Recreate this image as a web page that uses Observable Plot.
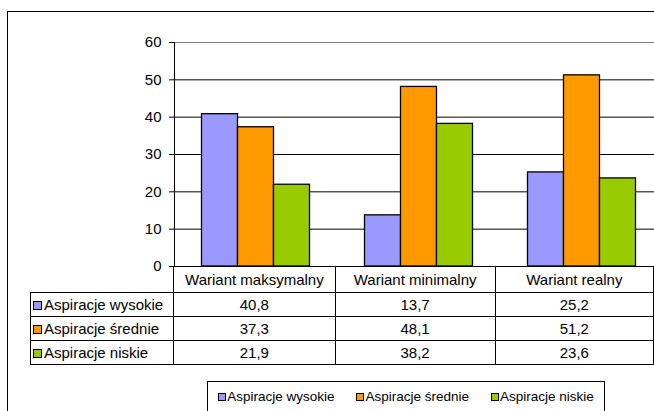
<!DOCTYPE html>
<html>
<head>
<meta charset="utf-8">
<script src="https://cdn.jsdelivr.net/npm/d3@7"></script>
<script src="https://cdn.jsdelivr.net/npm/@observablehq/plot@0.6"></script>
<style>
  html, body { margin: 0; padding: 0; background: #fff; }
  body { width: 654px; height: 411px; overflow: hidden; position: relative;
         font-family: Arial, "Liberation Sans", sans-serif; color: #000; }
  #frame { position: absolute; left: 7px; top: 11px; width: 700px; height: 500px;
           border: 1px solid #000; box-sizing: border-box; }
  #chart { position: absolute; left: 0; top: 0; width: 680px; height: 267px; }
  #chart svg { max-width: none !important; display: block; }
  #table { position: absolute; left: 30px; top: 266px; border-collapse: collapse;
           table-layout: fixed; font-size: 15px; }
  #table td { padding: 0; border: 1px solid #000; text-align: center; white-space: nowrap; }
  #table tr.head td { height: 25px; }
  #table tr.row td { height: 23px; }
  #table td.blank { border-left: none; border-top: none; border-bottom: 1px solid #000; }
  #table td.lab { text-align: left; padding-left: 2px; }
  .sw { display: inline-block; width: 7px; height: 7px; border: 1px solid #000;
        margin-right: 2px; vertical-align: 0px; }
  #legend { position: absolute; left: 207px; top: 381px; width: 398px; height: 40px;
            border: 1px solid #000; box-sizing: border-box; font-size: 13.5px;
            display: flex; justify-content: center; gap: 22px; padding-top: 7px; }
  #legend span.item { white-space: nowrap; }
  #legend .sw { width: 6px; height: 6px; margin-right: 1px; }
</style>
</head>
<body>
<div id="frame"></div>
<div id="chart"></div>
<table id="table"></table>
<div id="legend"></div>
<script>
// ---- data ----
const categories = ["Wariant maksymalny", "Wariant minimalny", "Wariant realny"];
const seriesNames = ["Aspiracje wysokie", "Aspiracje średnie", "Aspiracje niskie"];
const wysokie = [40.8, 13.7, 25.2];
const srednie = [37.3, 48.1, 51.2];
const niskie = [21.9, 38.2, 23.6];
const yTicks = [0, 10, 20, 30, 40, 50, 60];
const colors = ["#9999FF", "#FF9900", "#99CC00"];

const seriesValues = [wysokie, srednie, niskie];
const rows = [];
seriesNames.forEach((s, i) => categories.forEach((c, j) => rows.push({series: s, category: c, value: seriesValues[i][j]})));

// ---- layout ----
const W = 680;
const plotLeft = 174, plotRight = 663;
const bandW = (plotRight - plotLeft) / categories.length;
const barW = 36;
const pad = (bandW - barW * seriesNames.length) / 2;

const chart = Plot.plot({
  width: W,
  height: 267,
  marginLeft: plotLeft,
  marginRight: W - plotRight,
  marginTop: 42,
  marginBottom: 1,
  x: {domain: categories, padding: 0, axis: null},
  y: {domain: [0, 60], ticks: yTicks, tickSize: 5, tickPadding: 8, label: null, tickFormat: d => String(d)},
  style: {fontFamily: "Arial, 'Liberation Sans', sans-serif", fontSize: "15px", color: "#000", background: "transparent", overflow: "visible"},
  marks: [
    Plot.ruleY(yTicks.filter(t => t > 0 && t < 60), {stroke: "#000", strokeWidth: 1}),
    Plot.ruleY([60], {stroke: "#808080", strokeWidth: 1}),
    ...seriesNames.map((s, i) => Plot.barY(rows.filter(r => r.series === s), {
      x: "category", y: "value", fill: colors[i], stroke: "#000", strokeWidth: 1.3,
      insetLeft: pad + barW * i, insetRight: bandW - pad - barW * (i + 1)
    })),
    Plot.ruleY([0], {stroke: "#000"}),
    Plot.frame({anchor: "left", stroke: "#000"})
  ]
});
document.getElementById("chart").appendChild(chart);

// ---- data table ----
const table = document.getElementById("table");
const colgroup = document.createElement("colgroup");
[144, bandW, bandW, bandW].forEach(w => { const c = document.createElement("col"); c.style.width = w + "px"; colgroup.appendChild(c); });
table.appendChild(colgroup);
const head = document.createElement("tr");
head.className = "head";
const blank = document.createElement("td"); blank.className = "blank"; head.appendChild(blank);
categories.forEach(c => { const td = document.createElement("td"); td.textContent = c; head.appendChild(td); });
table.appendChild(head);
seriesNames.forEach((s, i) => {
  const tr = document.createElement("tr"); tr.className = "row";
  const lab = document.createElement("td"); lab.className = "lab";
  const sw = document.createElement("span"); sw.className = "sw"; sw.style.background = colors[i];
  lab.appendChild(sw); lab.appendChild(document.createTextNode(s));
  tr.appendChild(lab);
  seriesValues[i].forEach(v => { const td = document.createElement("td"); td.textContent = String(v).replace(".", ","); tr.appendChild(td); });
  table.appendChild(tr);
});

// ---- legend ----
const legend = document.getElementById("legend");
seriesNames.forEach((s, i) => {
  const it = document.createElement("span"); it.className = "item";
  const sw = document.createElement("span"); sw.className = "sw"; sw.style.background = colors[i];
  it.appendChild(sw); it.appendChild(document.createTextNode(s));
  legend.appendChild(it);
});
</script>
</body>
</html>
